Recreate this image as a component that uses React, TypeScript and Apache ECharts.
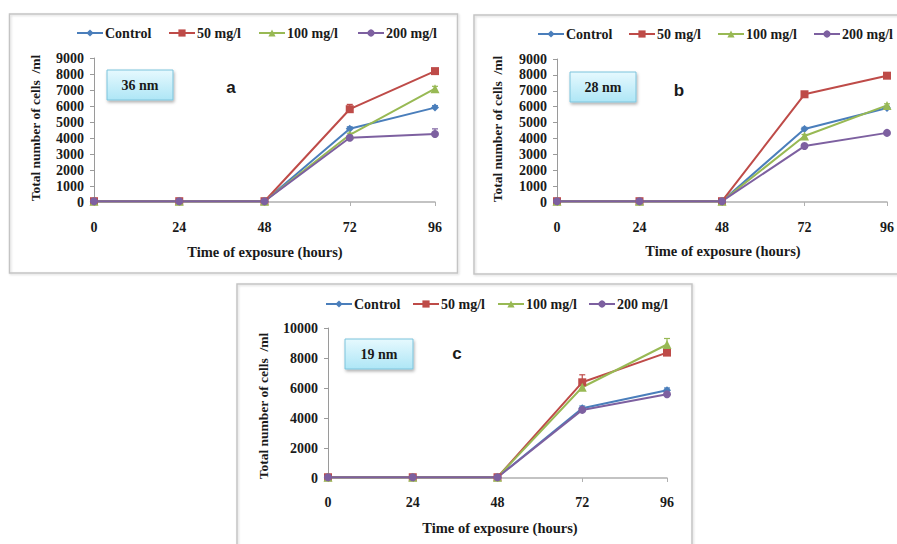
import React, { useEffect, useRef } from "react";
import * as echarts from "echarts";

const hours = [0, 24, 48, 72, 96];
const seriesNames = ["Control", "50 mg/l", "100 mg/l", "200 mg/l"];
const seriesColors = ["#4a7ebb", "#be4b48", "#98b954", "#7d60a0"];
const seriesSymbols = ["diamond", "rect", "triangle", "circle"];

// Panel a (36 nm)
const aControl = [50, 50, 50, 4580, 5900];
const a50 = [50, 50, 50, 5800, 8180];
const a100 = [50, 50, 50, 4200, 7080];
const a200 = [50, 50, 50, 4020, 4250];
const aControlErr = [0, 0, 0, 120, 120];
const a50Err = [0, 0, 0, 300, 150];
const a100Err = [0, 0, 0, 100, 150];
const a200Err = [0, 0, 0, 100, 320];

// Panel b (28 nm)
const bControl = [50, 50, 50, 4600, 5920];
const b50 = [50, 50, 50, 6780, 7950];
const b100 = [50, 50, 50, 4150, 6080];
const b200 = [50, 50, 50, 3520, 4350];
const bControlErr = [0, 0, 0, 100, 100];
const b50Err = [0, 0, 0, 100, 100];
const b100Err = [0, 0, 0, 100, 100];
const b200Err = [0, 0, 0, 100, 100];

// Panel c (19 nm)
const cControl = [50, 50, 50, 4650, 5850];
const c50 = [50, 50, 50, 6380, 8360];
const c100 = [50, 50, 50, 6050, 8900];
const c200 = [50, 50, 50, 4540, 5580];
const cControlErr = [0, 0, 0, 150, 150];
const c50Err = [0, 0, 0, 500, 150];
const c100Err = [0, 0, 0, 200, 400];
const c200Err = [0, 0, 0, 150, 100];

const panelLabels = ["36 nm", "28 nm", "19 nm"];
const panelLetters = ["a", "b", "c"];
const yMax = [9000, 9000, 10000];
const yInterval = [1000, 1000, 2000];
const xTitle = "Time of exposure (hours)";
const yTitle = "Total number of cells  /ml";

const panelValues = [
  [aControl, a50, a100, a200],
  [bControl, b50, b100, b200],
  [cControl, c50, c100, c200],
];
const panelErrors = [
  [aControlErr, a50Err, a100Err, a200Err],
  [bControlErr, b50Err, b100Err, b200Err],
  [cControlErr, c50Err, c100Err, c200Err],
];

const SERIF = "'Liberation Serif', 'Times New Roman', serif";
const SANS = "'Liberation Sans', Arial, sans-serif";

// layout
const grids = [
  { left: 94, top: 58, width: 341, height: 144 },
  { left: 557, top: 59, width: 333, height: 143 },
  { left: 328, top: 328, width: 339, height: 150 },
];
const frames = [
  { x: 9.5, y: 14, width: 448, height: 259 },
  { x: 474, y: 15, width: 440, height: 259 },
  { x: 237, y: 284, width: 455, height: 290 },
];
const legendLefts = [
  [76, 168, 258, 357],
  [537, 628, 717, 813],
  [325, 412, 497, 588],
];
const legendTops = [26, 27, 297];
const boxes = [
  { x: 107, y: 70, width: 66, height: 30 },
  { x: 570, y: 72, width: 66, height: 30 },
  { x: 345, y: 339, width: 68, height: 30 },
];
const letterPos = [
  [231, 87],
  [679, 90],
  [457, 353],
];
const yTitlePos = [
  [35, 128],
  [497, 129],
  [263, 406],
];
const xTitlePos = [
  [265, 252],
  [723, 251],
  [500, 528],
];

export default function App() {
  const ref = useRef<HTMLDivElement>(null);

  useEffect(() => {
    if (!ref.current) return;
    const chart = echarts.init(ref.current, undefined, { renderer: "svg" });

    const xAxes: any[] = [];
    const yAxes: any[] = [];
    const series: any[] = [];
    const legends: any[] = [];
    const graphics: any[] = [];

    for (let p = 0; p < 3; p++) {
      xAxes.push({
        type: "value",
        gridIndex: p,
        min: 0,
        max: 96,
        interval: 24,
        axisLine: { show: true, lineStyle: { color: "#b0b0b0", width: 1.5 } },
        axisTick: { show: true, length: 4, lineStyle: { color: "#b0b0b0" } },
        splitLine: { show: false },
        axisLabel: {
          margin: p === 2 ? 17 : 18,
          fontFamily: SERIF,
          fontWeight: "bold",
          fontSize: 14,
          color: "#1a1a1a",
          formatter: (v: number) => String(v),
        },
      });
      yAxes.push({
        type: "value",
        gridIndex: p,
        min: 0,
        max: yMax[p],
        interval: yInterval[p],
        axisLine: { show: true, lineStyle: { color: "#9a9a9a", width: 1 } },
        axisTick: { show: true, length: 4, lineStyle: { color: "#9a9a9a" } },
        splitLine: { show: false },
        axisLabel: {
          margin: 10,
          fontFamily: SERIF,
          fontWeight: "bold",
          fontSize: 14,
          color: "#1a1a1a",
          formatter: (v: number) => String(v),
        },
      });

      for (let s = 0; s < 4; s++) {
        const vals = panelValues[p][s];
        const errs = panelErrors[p][s];
        series.push({
          type: "line",
          name: seriesNames[s],
          xAxisIndex: p,
          yAxisIndex: p,
          data: hours.map((h, i) => [h, vals[i]]),
          symbol: seriesSymbols[s],
          symbolSize: s === 2 ? 9 : 8,
          color: seriesColors[s],
          lineStyle: { width: 2, color: seriesColors[s] },
          itemStyle: { color: seriesColors[s] },
          z: 3,
        });
        series.push({
          type: "custom",
          name: "err-" + p + "-" + s,
          xAxisIndex: p,
          yAxisIndex: p,
          data: hours.map((h, i) => [h, vals[i], errs[i]]),
          encode: { x: 0, y: 1 },
          z: 2,
          renderItem: (params: any, api: any) => {
            const x = api.value(0);
            const y = api.value(1);
            const e = api.value(2);
            if (!e) return null;
            const p0 = api.coord([x, y]);
            const p1 = api.coord([x, y + e]);
            const st = { stroke: seriesColors[s], lineWidth: 1.2 };
            return {
              type: "group",
              children: [
                { type: "line", shape: { x1: p0[0], y1: p0[1], x2: p1[0], y2: p1[1] }, style: st },
                { type: "line", shape: { x1: p1[0] - 3, y1: p1[1], x2: p1[0] + 3, y2: p1[1] }, style: st },
              ],
            };
          },
        });
        legends.push({
          left: legendLefts[p][s],
          top: legendTops[p],
          data: [seriesNames[s]],
          itemWidth: 26,
          itemHeight: 9,
          itemGap: 0,
          padding: 0,
          selectedMode: false,
          textStyle: {
            fontFamily: SERIF,
            fontWeight: "bold",
            fontSize: 14,
            color: "#1a1a1a",
            padding: [0, 0, 0, -3],
          },
        });
      }

      const f = frames[p];
      graphics.push({
        type: "rect",
        shape: { x: f.x, y: f.y, width: f.width, height: f.height },
        style: {
          fill: "none",
          stroke: "#c4c4c4",
          lineWidth: 1.5,
          shadowBlur: 2,
          shadowColor: "rgba(0,0,0,0.15)",
          shadowOffsetX: 1,
          shadowOffsetY: 1,
        },
        z: 0,
      });
      const b = boxes[p];
      graphics.push({
        type: "rect",
        shape: { x: b.x, y: b.y, width: b.width, height: b.height },
        style: {
          fill: new echarts.graphic.LinearGradient(0, 0, 0, 1, [
            { offset: 0, color: "#e6f9fe" },
            { offset: 1, color: "#aee6f6" },
          ]),
          stroke: "#7cc4dc",
          lineWidth: 1,
          shadowBlur: 3,
          shadowColor: "rgba(0,0,0,0.3)",
          shadowOffsetX: 1,
          shadowOffsetY: 2,
        },
        z: 5,
      });
      graphics.push({
        type: "text",
        x: b.x + b.width / 2,
        y: b.y + b.height / 2,
        style: {
          text: panelLabels[p],
          font: "bold 14px " + SERIF,
          fill: "#1a1a1a",
          align: "center",
          verticalAlign: "middle",
        },
        z: 6,
      });
      graphics.push({
        type: "text",
        x: letterPos[p][0],
        y: letterPos[p][1],
        style: {
          text: panelLetters[p],
          font: "bold 17px " + SANS,
          fill: "#1a1a1a",
          align: "center",
          verticalAlign: "middle",
        },
        z: 6,
      });
      graphics.push({
        type: "text",
        x: yTitlePos[p][0],
        y: yTitlePos[p][1],
        rotation: Math.PI / 2,
        style: {
          text: yTitle,
          font: "bold 13.5px " + SERIF,
          fill: "#1a1a1a",
          align: "center",
          verticalAlign: "middle",
        },
        z: 6,
      });
      graphics.push({
        type: "text",
        x: xTitlePos[p][0],
        y: xTitlePos[p][1],
        style: {
          text: xTitle,
          font: "bold 14.5px " + SERIF,
          fill: "#1a1a1a",
          align: "center",
          verticalAlign: "middle",
        },
        z: 6,
      });
    }

    chart.setOption({
      animation: false,
      backgroundColor: "#ffffff",
      grid: grids.map((g) => ({ ...g, containLabel: false })),
      xAxis: xAxes,
      yAxis: yAxes,
      legend: legends,
      series,
      graphic: graphics,
    });

    return () => chart.dispose();
  }, []);

  return (
    <div
      ref={ref}
      style={{ position: "fixed", left: 0, top: 0, width: 897, height: 544, background: "#fff" }}
    />
  );
}
